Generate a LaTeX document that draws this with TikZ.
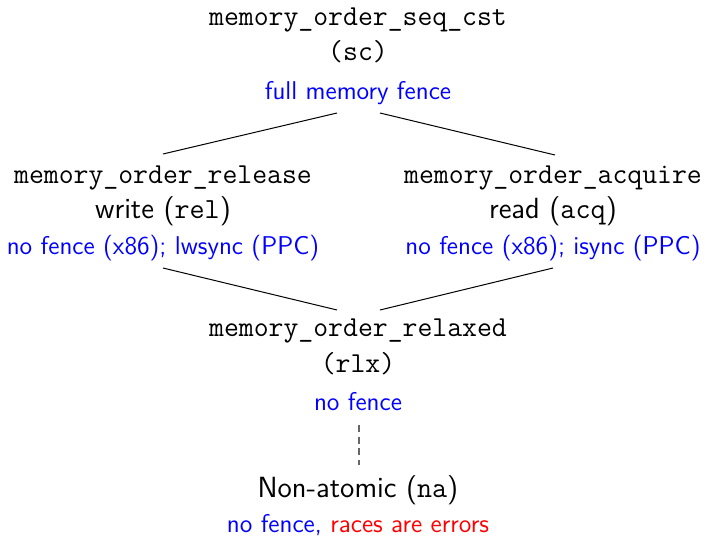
\documentclass[tikz,border=0pt]{standalone}
\usetikzlibrary{calc}
\begin{document}
\begin{tikzpicture}[x=0.5pt,y=-0.5pt,
  mono/.style={anchor=base,inner sep=0pt,font=\fontsize{14.45}{17}\selectfont\ttfamily},
  main/.style={anchor=base,inner sep=0pt,font=\fontsize{14.6}{17}\selectfont\sffamily},
  note/.style={anchor=base,inner sep=0pt,text=blue,font=\fontsize{12.85}{15}\selectfont\sffamily},
  link/.style={draw=black,line width=0.5pt},
  weak/.style={draw=black!60,line width=0.6pt,dash pattern=on 3.5pt off 2.3pt}]
\useasboundingbox (0,0) rectangle (706,535);
% top
\node[mono] (sc1) at (358,26) {memory\_order\_seq\_cst};
\node[mono] (sc2) at (358,61) {(sc)};
\node[note] (sc3) at (358,99) {full memory fence};
% release
\node[mono] (rel1) at (163,183) {memory\_order\_release};
\node[main] (rel2) at (163,218) {write (\texttt{rel})};
\node[note] (rel3) at (163,254) {no fence (x86); lwsync (PPC)};
% acquire
\node[mono] (acq1) at (553,183) {memory\_order\_acquire};
\node[main] (acq2) at (553,218) {read (\texttt{acq})};
\node[note] (acq3) at (553,254) {no fence (x86); isync (PPC)};
% relaxed
\node[mono] (rlx1) at (358,336) {memory\_order\_relaxed};
\node[mono] (rlx2) at (358,372) {(rlx)};
\node[note] (rlx3) at (358,410) {no fence};
% non-atomic
\node[main] (na1) at (358,497) {Non-atomic (\texttt{na})};
\node[note] (na2) at (358,532) {no fence, \textcolor{red}{races are errors}};
% connector ends
\coordinate (scL) at (337,113);
\coordinate (scR) at (380,113);
\coordinate (relT) at (163,154);
\coordinate (acqT) at (555,155);
\coordinate (relB) at (163,268);
\coordinate (acqB) at (553,268);
\coordinate (rlxL) at (337,310);
\coordinate (rlxR) at (380,310);
\coordinate (rlxB) at (359,425);
\coordinate (naT) at (359,465);
\draw[link] (scL) -- (relT);
\draw[link] (scR) -- (acqT);
\draw[link] (relB) -- (rlxL);
\draw[link] (acqB) -- (rlxR);
\draw[weak] (rlxB) -- (naT);
\end{tikzpicture}
\end{document}
